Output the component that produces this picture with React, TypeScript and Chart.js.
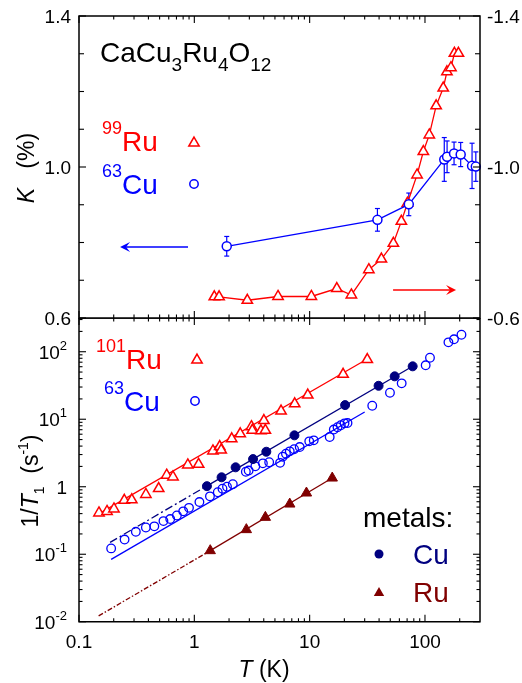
import React, { useEffect, useRef } from 'react';
import { Chart, registerables } from 'chart.js';

Chart.register(...registerables);

const FF = '"Liberation Sans", Arial, Helvetica, sans-serif';
const RED = '#ff0000';
const BLUE = '#0000ff';
const NAVY = '#000080';
const MAROON = '#800000';

// ---------- axes ----------
const X_MIN = 0.1;
const X_MAX = 300;
const xTickValues = [0.1, 1, 10, 100];
const xTickLabels = ['0.1', '1', '10', '100'];

const K_MIN = 0.6;
const K_MAX = 1.4;
const kTickValues = [0.6, 0.7, 0.8, 0.9, 1.0, 1.1, 1.2, 1.3, 1.4];
const kLabelValues = [0.6, 1.0, 1.4];
const kLabelsLeft = ['0.6', '1.0', '1.4'];
const kLabelsRight = ['-0.6', '-1.0', '-1.4'];

const R_MIN = 0.01;
const R_MAX = 316;
const rateLabelValues = [0.01, 0.1, 1, 10, 100];
const rateLabelBase = ['10', '10', '1', '10', '10'];
const rateLabelExp = ['-2', '-1', '', '1', '2'];

// ---------- top panel: Knight shift ----------
// 99Ru (right axis, negative shift)
const ruKTemp = [1.49, 1.64, 2.88, 5.32, 10.35, 17.2, 23.0, 32.6, 41.9, 53.2, 62.4, 70.4, 85.4, 96.8, 109, 125, 144, 155, 168, 180, 195];
const ruKShift = [-0.656, -0.656, -0.647, -0.657, -0.657, -0.678, -0.661, -0.728, -0.756, -0.798, -0.856, -0.904, -0.979, -1.041, -1.085, -1.162, -1.209, -1.252, -1.263, -1.301, -1.301];
// 63Cu (left axis)
const cuKTemp = [1.91, 38.7, 72.4, 147, 155.5, 178.7, 204, 256, 276];
const cuKShift = [0.79, 0.86, 0.901, 1.02, 1.027, 1.036, 1.033, 1.003, 1.001];
const cuKErr = [0.026, 0.03, 0.03, 0.058, 0.042, 0.03, 0.032, 0.06, 0.039];
// axis arrows (data units)
const cuArrowTemp = [0.882, 0.227];
const cuArrowK = 0.788;
const ruArrowTemp = [52.9, 186];
const ruArrowK = -0.674;

// ---------- bottom panel: 1/T1 ----------
const ru101Temp = [0.149, 0.175, 0.201, 0.247, 0.287, 0.38, 0.491, 0.576, 0.653, 0.878, 1.09, 1.45, 1.66, 1.71, 2.11, 2.5, 3.13, 3.18, 3.78, 4.01, 4.13, 5.65, 7.42, 9.63, 19.5, 31.6];
const ru101Rate = [0.41, 0.43, 0.47, 0.63, 0.64, 0.77, 0.94, 1.48, 1.4, 2.1, 2.15, 3.39, 3.93, 3.5, 5.12, 6.08, 7.77, 6.85, 6.73, 9.57, 6.85, 13.2, 16.9, 22.8, 46.3, 76.4];

const cu63Temp = [0.19, 0.2485, 0.311, 0.38, 0.45, 0.54, 0.618, 0.706, 0.801, 0.899, 1.107, 1.366, 1.597, 1.754, 1.92, 2.156, 2.797, 2.958, 3.381, 3.93, 4.457, 5.54, 5.83, 6.23, 6.72, 7.33, 8.2, 9.92, 10.85, 14.92, 16.2, 17.44, 18.63, 20.06, 21.3, 34.9, 49.7, 62.8, 101.4, 110.5, 159.7, 178.6, 207.2];
const cu63Rate = [0.122, 0.165, 0.215, 0.249, 0.259, 0.31, 0.332, 0.375, 0.432, 0.487, 0.593, 0.721, 0.829, 0.934, 1.0, 1.089, 1.668, 1.738, 2.005, 2.222, 2.307, 2.26, 2.78, 3.08, 3.345, 3.59, 3.87, 4.7, 4.87, 5.45, 7.04, 7.61, 8.15, 8.69, 8.78, 15.85, 24.7, 34.0, 62.9, 81.5, 137.8, 152.7, 178.6];

const cuMetalTemp = [1.286, 1.723, 2.28, 3.23, 4.21, 7.38, 20.3, 39.6, 54.6, 78.2];
const cuMetalRate = [1.02, 1.38, 1.94, 2.57, 3.3, 5.77, 16.2, 31.3, 43.2, 60.8];

const ruMetalTemp = [1.374, 2.825, 4.13, 6.72, 9.38, 15.7];
const ruMetalRate = [0.113, 0.2315, 0.352, 0.554, 0.807, 1.345];

// fit lines
const ru101FitTemp = [0.142, 31.6];
const ru101FitRate = [0.38, 78];
const cu63FitTemp = [0.19, 30];
const cu63FitRate = [0.084, 12.8];
const cuMetalFitTemp = [1.29, 78.2];
const cuMetalFitRate = [1.03, 61];
const cuMetalExtTemp = [0.186, 1.29];
const cuMetalExtRate = [0.15, 1.03];
const ruMetalFitTemp = [1.374, 15.7];
const ruMetalFitRate = [0.113, 1.345];
const ruMetalExtTemp = [0.148, 1.374];
const ruMetalExtRate = [0.0122, 0.113];

// ---------- layout ----------
const W = 522;
const H1 = 330;
const PANEL2_TOP = 318;
const H2 = 683 - PANEL2_TOP;
const LEFT_W = 79;
const RIGHT_W = 42;

type Seg = { t: string; s: number; it?: boolean; dy?: number };

const fnt = (s: number, it?: boolean) => `${it ? 'italic ' : ''}${s}px ${FF}`;

function segsWidth(ctx: CanvasRenderingContext2D, segs: Seg[]) {
  let w = 0;
  for (const g of segs) {
    ctx.font = fnt(g.s, g.it);
    w += ctx.measureText(g.t).width;
  }
  return w;
}

function drawSegs(ctx: CanvasRenderingContext2D, segs: Seg[], x: number, y: number, color: string) {
  ctx.fillStyle = color;
  ctx.textAlign = 'left';
  ctx.textBaseline = 'alphabetic';
  let cx = x;
  for (const g of segs) {
    ctx.font = fnt(g.s, g.it);
    ctx.fillText(g.t, cx, y + (g.dy || 0));
    cx += ctx.measureText(g.t).width;
  }
}

function logTicks(min: number, max: number) {
  const out: { v: number; major: boolean }[] = [];
  for (let e = Math.floor(Math.log10(min)); e <= Math.ceil(Math.log10(max)); e++) {
    for (let m = 1; m < 10; m++) {
      const v = m * Math.pow(10, e);
      if (v >= min * 0.999 && v <= max * 1.001) out.push({ v, major: m === 1 });
    }
  }
  return out;
}

function seg(ctx: CanvasRenderingContext2D, x1: number, y1: number, x2: number, y2: number) {
  ctx.beginPath();
  ctx.moveTo(x1, y1);
  ctx.lineTo(x2, y2);
  ctx.stroke();
}

function triPath(ctx: CanvasRenderingContext2D, x: number, y: number, r: number) {
  ctx.beginPath();
  for (let k = 0; k < 3; k++) {
    const a = (k * 2 * Math.PI) / 3;
    const px = x + Math.sin(a) * r;
    const py = y - Math.cos(a) * r;
    if (k === 0) ctx.moveTo(px, py);
    else ctx.lineTo(px, py);
  }
  ctx.closePath();
}

function arrow(ctx: CanvasRenderingContext2D, xFrom: number, xTip: number, y: number, color: string) {
  const dir = Math.sign(xTip - xFrom);
  ctx.strokeStyle = color;
  ctx.fillStyle = color;
  ctx.lineWidth = 1.5;
  seg(ctx, xFrom, y, xTip - dir * 5, y);
  ctx.beginPath();
  ctx.moveTo(xTip, y);
  ctx.lineTo(xTip - dir * 10, y - 5);
  ctx.lineTo(xTip - dir * 6, y);
  ctx.lineTo(xTip - dir * 10, y + 5);
  ctx.closePath();
  ctx.fill();
}

function drawFrameAndXTicks(chart: any) {
  const ctx: CanvasRenderingContext2D = chart.ctx;
  const { left, right, top, bottom } = chart.chartArea;
  const xs = chart.scales.x;
  ctx.strokeStyle = '#000';
  ctx.lineWidth = 1.5;
  ctx.strokeRect(left, top, right - left, bottom - top);
  ctx.lineWidth = 1.1;
  for (const t of logTicks(X_MIN, X_MAX)) {
    const px = xs.getPixelForValue(t.v);
    if (px > right - 1) continue;
    const len = t.major ? 7 : 3.5;
    seg(ctx, px, top, px, top + len);
    seg(ctx, px, bottom, px, bottom - len);
  }
}

function makePoints(xs: number[], ys: number[]) {
  return xs.map((x, i) => ({ x, y: ys[i] }));
}

const topPlugin = {
  id: 'topPanelDecor',
  beforeDatasetsDraw(chart: any) {
    const ctx: CanvasRenderingContext2D = chart.ctx;
    const xs = chart.scales.x;
    const ys = chart.scales.y;
    ctx.save();
    ctx.strokeStyle = BLUE;
    ctx.lineWidth = 1.2;
    cuKTemp.forEach((t, i) => {
      const px = xs.getPixelForValue(t);
      const p1 = ys.getPixelForValue(cuKShift[i] - cuKErr[i]);
      const p2 = ys.getPixelForValue(cuKShift[i] + cuKErr[i]);
      seg(ctx, px, p1, px, p2);
      seg(ctx, px - 2.5, p1, px + 2.5, p1);
      seg(ctx, px - 2.5, p2, px + 2.5, p2);
    });
    // arrows
    const yr = chart.scales.yR;
    arrow(ctx, xs.getPixelForValue(cuArrowTemp[0]), xs.getPixelForValue(cuArrowTemp[1]), ys.getPixelForValue(cuArrowK), BLUE);
    arrow(ctx, xs.getPixelForValue(ruArrowTemp[0]), xs.getPixelForValue(ruArrowTemp[1]), yr.getPixelForValue(ruArrowK), RED);
    ctx.restore();
  },
  afterDraw(chart: any) {
    const ctx: CanvasRenderingContext2D = chart.ctx;
    const { left, right } = chart.chartArea;
    const ys = chart.scales.y;
    ctx.save();
    drawFrameAndXTicks(chart);
    // y ticks both sides
    ctx.lineWidth = 1.1;
    for (const v of kTickValues) {
      const py = ys.getPixelForValue(v);
      const major = kLabelValues.some((l) => Math.abs(l - v) < 1e-6);
      const len = major ? 7 : 5;
      seg(ctx, left, py, left + len, py);
      seg(ctx, right, py, right - len, py);
    }
    // labels
    ctx.fillStyle = '#000';
    ctx.font = fnt(19);
    ctx.textBaseline = 'alphabetic';
    kLabelValues.forEach((v, i) => {
      const py = ys.getPixelForValue(v);
      ctx.textAlign = 'right';
      ctx.fillText(kLabelsLeft[i], left - 8, py + 7);
      ctx.textAlign = 'left';
      ctx.fillText(kLabelsRight[i], right + 7, py + 7);
    });
    // y title
    const tsegs: Seg[] = [
      { t: 'K', s: 23, it: true },
      { t: '   (%)', s: 23 },
    ];
    ctx.save();
    ctx.translate(34, 168);
    ctx.rotate(-Math.PI / 2);
    drawSegs(ctx, tsegs, -segsWidth(ctx, tsegs) / 2, 0, '#000');
    ctx.restore();
    // compound label
    drawSegs(
      ctx,
      [
        { t: 'CaCu', s: 28 },
        { t: '3', s: 19, dy: 9 },
        { t: 'Ru', s: 28 },
        { t: '4', s: 19, dy: 9 },
        { t: 'O', s: 28 },
        { t: '12', s: 19, dy: 9 },
      ],
      100,
      62,
      '#000'
    );
    // legend
    drawSegs(ctx, [{ t: '99', s: 18, dy: -17 }, { t: 'Ru', s: 28 }], 102, 151, RED);
    drawSegs(ctx, [{ t: '63', s: 18, dy: -17 }, { t: 'Cu', s: 28 }], 102, 194, BLUE);
    ctx.lineWidth = 1.5;
    ctx.strokeStyle = RED;
    triPath(ctx, 194, 143, 6);
    ctx.stroke();
    ctx.strokeStyle = BLUE;
    ctx.beginPath();
    ctx.arc(194, 184, 4.2, 0, Math.PI * 2);
    ctx.stroke();
    ctx.restore();
  },
};

const bottomPlugin = {
  id: 'bottomPanelDecor',
  afterDraw(chart: any) {
    const ctx: CanvasRenderingContext2D = chart.ctx;
    const { left, right, bottom } = chart.chartArea;
    const xs = chart.scales.x;
    const ys = chart.scales.y;
    const off = PANEL2_TOP;
    ctx.save();
    drawFrameAndXTicks(chart);
    ctx.lineWidth = 1.1;
    for (const t of logTicks(R_MIN, R_MAX)) {
      const py = ys.getPixelForValue(t.v);
      const len = t.major ? 7 : 3.5;
      seg(ctx, left, py, left + len, py);
      seg(ctx, right, py, right - len, py);
    }
    // y labels
    rateLabelValues.forEach((v, i) => {
      const py = ys.getPixelForValue(v);
      const segs: Seg[] = [{ t: rateLabelBase[i], s: 19 }];
      if (rateLabelExp[i]) segs.push({ t: rateLabelExp[i], s: 13, dy: -9 });
      const w = segsWidth(ctx, segs);
      drawSegs(ctx, segs, left - 12 - w, py + 7, '#000');
    });
    // x labels
    ctx.fillStyle = '#000';
    ctx.font = fnt(19);
    ctx.textAlign = 'center';
    ctx.textBaseline = 'alphabetic';
    xTickValues.forEach((v, i) => {
      ctx.fillText(xTickLabels[i], xs.getPixelForValue(v), bottom + 26);
    });
    // x title
    const xt: Seg[] = [
      { t: 'T', s: 23, it: true },
      { t: ' (K)', s: 23 },
    ];
    drawSegs(ctx, xt, 264 - segsWidth(ctx, xt) / 2, 677 - off, '#000');
    // y title
    const yt: Seg[] = [
      { t: '1/', s: 23 },
      { t: 'T', s: 23, it: true },
      { t: '1', s: 14, dy: 6 },
      { t: '  (s', s: 23 },
      { t: '-1', s: 14, dy: -10 },
      { t: ')', s: 23 },
    ];
    ctx.save();
    ctx.translate(38, 481 - off);
    ctx.rotate(-Math.PI / 2);
    drawSegs(ctx, yt, -segsWidth(ctx, yt) / 2, 0, '#000');
    ctx.restore();
    // legends
    drawSegs(ctx, [{ t: '101', s: 18, dy: -17 }, { t: 'Ru', s: 28 }], 96, 369 - off, RED);
    drawSegs(ctx, [{ t: '63', s: 18, dy: -17 }, { t: 'Cu', s: 28 }], 104, 411 - off, BLUE);
    ctx.lineWidth = 1.5;
    ctx.strokeStyle = RED;
    triPath(ctx, 197, 360 - off, 6);
    ctx.stroke();
    ctx.strokeStyle = BLUE;
    ctx.beginPath();
    ctx.arc(195, 401 - off, 4.2, 0, Math.PI * 2);
    ctx.stroke();
    drawSegs(ctx, [{ t: 'metals:', s: 28 }], 363, 527 - off, '#000');
    ctx.fillStyle = NAVY;
    ctx.beginPath();
    ctx.arc(379, 554 - off, 4.5, 0, Math.PI * 2);
    ctx.fill();
    drawSegs(ctx, [{ t: 'Cu', s: 28 }], 413, 564 - off, NAVY);
    ctx.fillStyle = MAROON;
    triPath(ctx, 379, 593 - off, 6);
    ctx.fill();
    drawSegs(ctx, [{ t: 'Ru', s: 28 }], 413, 602 - off, MAROON);
    ctx.restore();
  },
};

const hidden = {
  grid: { display: false },
  border: { display: false },
  ticks: { display: false },
  title: { display: false },
};

function lineDs(xs: number[], ys: number[], color: string, dash: number[] = []) {
  return {
    data: makePoints(xs, ys),
    showLine: true,
    borderColor: color,
    borderWidth: 1.3,
    borderDash: dash,
    pointRadius: 0,
    clip: false,
  };
}

export default function App() {
  const topRef = useRef<HTMLCanvasElement | null>(null);
  const botRef = useRef<HTMLCanvasElement | null>(null);

  useEffect(() => {
    if (!topRef.current || !botRef.current) return;
    const common = {
      animation: false,
      responsive: false,
      events: [],
      plugins: { legend: { display: false }, tooltip: { enabled: false } },
    };

    const top = new Chart(topRef.current, {
      type: 'scatter',
      data: {
        datasets: [
          {
            data: makePoints(cuKTemp, cuKShift),
            yAxisID: 'y',
            showLine: true,
            borderColor: BLUE,
            borderWidth: 1.3,
            pointStyle: 'circle',
            pointRadius: 4.5,
            pointBorderWidth: 1.5,
            pointBorderColor: BLUE,
            pointBackgroundColor: '#ffffff',
            clip: false,
          },
          {
            data: makePoints(ruKTemp, ruKShift),
            yAxisID: 'yR',
            showLine: true,
            borderColor: RED,
            borderWidth: 1.3,
            pointStyle: 'triangle',
            pointRadius: 6,
            pointBorderWidth: 1.5,
            pointBorderColor: RED,
            pointBackgroundColor: '#ffffff',
            clip: false,
          },
        ],
      },
      options: {
        ...common,
        layout: { autoPadding: false, padding: { top: 16, left: 0, right: 0, bottom: 0 } },
        scales: {
          x: {
            type: 'logarithmic',
            min: X_MIN,
            max: X_MAX,
            position: 'bottom',
            ...hidden,
            afterFit: (s: any) => {
              s.height = H1 - PANEL2_TOP;
            },
          },
          y: {
            type: 'linear',
            min: K_MIN,
            max: K_MAX,
            position: 'left',
            ...hidden,
            afterFit: (s: any) => {
              s.width = LEFT_W;
            },
          },
          yR: {
            type: 'linear',
            min: -K_MAX,
            max: -K_MIN,
            reverse: true,
            position: 'right',
            ...hidden,
            afterFit: (s: any) => {
              s.width = RIGHT_W;
            },
          },
        },
      } as any,
      plugins: [topPlugin],
    });

    const bottom = new Chart(botRef.current, {
      type: 'scatter',
      data: {
        datasets: [
          {
            data: makePoints(ruMetalTemp, ruMetalRate),
            pointStyle: 'triangle',
            pointRadius: 6,
            pointBorderWidth: 1,
            pointBorderColor: MAROON,
            pointBackgroundColor: MAROON,
            clip: false,
          },
          {
            data: makePoints(cuMetalTemp, cuMetalRate),
            pointStyle: 'circle',
            pointRadius: 4.5,
            pointBorderWidth: 1,
            pointBorderColor: NAVY,
            pointBackgroundColor: NAVY,
            clip: false,
          },
          {
            data: makePoints(ru101Temp, ru101Rate),
            pointStyle: 'triangle',
            pointRadius: 6,
            pointBorderWidth: 1.5,
            pointBorderColor: RED,
            pointBackgroundColor: '#ffffff',
            clip: false,
          },
          {
            data: makePoints(cu63Temp, cu63Rate),
            pointStyle: 'circle',
            pointRadius: 4.3,
            pointBorderWidth: 1.3,
            pointBorderColor: BLUE,
            pointBackgroundColor: 'rgba(0,0,0,0)',
            clip: false,
          },
          lineDs(ru101FitTemp, ru101FitRate, RED),
          lineDs(cu63FitTemp, cu63FitRate, BLUE),
          lineDs(cuMetalFitTemp, cuMetalFitRate, NAVY),
          lineDs(cuMetalExtTemp, cuMetalExtRate, NAVY, [8, 3, 2, 3]),
          lineDs(ruMetalFitTemp, ruMetalFitRate, MAROON),
          lineDs(ruMetalExtTemp, ruMetalExtRate, MAROON, [5, 2, 1.5, 2]),
        ],
      },
      options: {
        ...common,
        layout: { autoPadding: false, padding: { top: 0, left: 0, right: RIGHT_W, bottom: 0 } },
        scales: {
          x: {
            type: 'logarithmic',
            min: X_MIN,
            max: X_MAX,
            position: 'bottom',
            ...hidden,
            afterFit: (s: any) => {
              s.height = 61.25;
            },
          },
          y: {
            type: 'logarithmic',
            min: R_MIN,
            max: R_MAX,
            position: 'left',
            ...hidden,
            afterFit: (s: any) => {
              s.width = LEFT_W;
            },
          },
        },
      } as any,
      plugins: [bottomPlugin],
    });

    return () => {
      top.destroy();
      bottom.destroy();
    };
  }, []);

  return (
    <div style={{ position: 'absolute', left: 0, top: 0, width: W, height: 683, background: '#fff', overflow: 'hidden' }}>
      <canvas ref={topRef} width={W} height={H1} style={{ position: 'absolute', left: 0, top: 0, width: W, height: H1 }} />
      <canvas ref={botRef} width={W} height={H2} style={{ position: 'absolute', left: 0, top: PANEL2_TOP, width: W, height: H2 }} />
    </div>
  );
}
